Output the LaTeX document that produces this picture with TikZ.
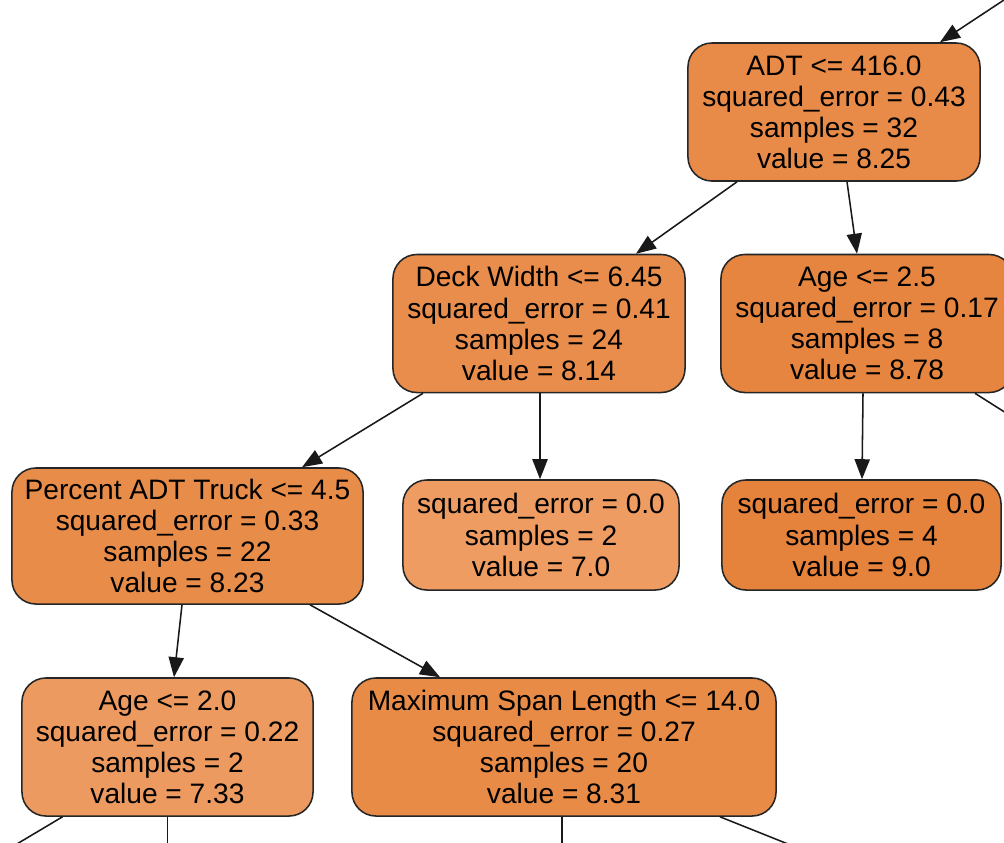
\documentclass[tikz,border=0pt]{standalone}
\usepackage{fontspec}
\usepackage{tikz}
\usetikzlibrary{arrows.meta,calc}
\newfontfamily\treefont{Liberation Sans}
\definecolor{cRoot}{HTML}{E88B48}
\definecolor{cDeck}{HTML}{E88D4B}
\definecolor{cAgeA}{HTML}{E6853F}
\definecolor{cPct}{HTML}{E88C4A}
\definecolor{cLeafA}{HTML}{EE9C62}
\definecolor{cLeafB}{HTML}{E5823C}
\definecolor{cAgeB}{HTML}{EC9A60}
\definecolor{cSpan}{HTML}{E88B47}

\begin{document}
\begin{tikzpicture}[x=0.025cm,y=-0.025cm,
  split/.style={draw=black!85,line width=1.1pt,rounded corners=0.6cm,align=center,
    inner sep=0pt,minimum height=3.45cm,font=\treefont\fontsize{20}{22.1}\selectfont},
  leaf/.style={split,minimum height=2.75cm},
  edge/.style={line width=1.1pt,black!90},
  arr/.style={edge,-{Triangle[length=0.5cm,width=0.38cm]}}]
\useasboundingbox (0,0) rectangle (1004,842);
\clip (0,0) rectangle (1004,842);
\fill[white] (0,0) rectangle (1004,842);
% splits
\node[split,fill=cRoot,minimum width=7.3cm] (root) at (834,112)
  {ADT <= 416.0\\squared\_error = 0.43\\samples = 32\\value = 8.25};
\node[split,fill=cDeck,minimum width=7.3cm] (deck) at (539,323.5)
  {Deck Width <= 6.45\\squared\_error = 0.41\\samples = 24\\value = 8.14};
\node[split,fill=cAgeA,minimum width=7.3cm] (ageA) at (867,323.5)
  {Age <= 2.5\\squared\_error = 0.17\\samples = 8\\value = 8.78};
\node[split,fill=cPct,minimum width=8.775cm,minimum height=3.4cm] (pct) at (187.5,536)
  {Percent ADT Truck <= 4.5\\squared\_error = 0.33\\samples = 22\\value = 8.23};
\node[split,fill=cAgeB,minimum width=7.275cm] (ageB) at (167.5,747)
  {Age <= 2.0\\squared\_error = 0.22\\samples = 2\\value = 7.33};
\node[split,fill=cSpan,minimum width=10.6cm] (span) at (564,747)
  {Maximum Span Length <= 14.0\\squared\_error = 0.27\\samples = 20\\value = 8.31};
% leaves
\node[leaf,fill=cLeafA,minimum width=6.9cm] (leafA) at (541,535)
  {squared\_error = 0.0\\samples = 2\\value = 7.0};
\node[leaf,fill=cLeafB,minimum width=6.975cm] (leafB) at (861.5,535)
  {squared\_error = 0.0\\samples = 4\\value = 9.0};
% free ends outside the frame
\coordinate (inTop) at (1010,-4);
\coordinate (outA) at (1040,434.5);
\coordinate (outB) at (-10,860);
\coordinate (outC) at (167.5,870);
\coordinate (outD) at (562,870);
\coordinate (outE) at (853,870);
% edges
\draw[arr] (inTop) -- ($(root.north)+(106,0)$);
\draw[arr] ($(root.south)+(-97,0)$) -- ($(deck.north)+(97,0)$);
\draw[arr] ($(root.south)+(13,0)$) -- ($(ageA.north)+(-10,0)$);
\draw[arr] ($(deck.south)+(-116,0)$) -- ($(pct.north)+(114.5,0)$);
\draw[arr] ($(deck.south)+(1,0)$) -- ($(leafA.north)+(-1,0)$);
\draw[arr] ($(ageA.south)+(-4,0)$) -- ($(leafB.north)+(0.5,0)$);
\draw[edge] ($(ageA.south)+(108,0)$) -- (outA);
\draw[arr] ($(pct.south)+(-5.5,0)$) -- ($(ageB.north)+(6.5,0)$);
\draw[arr] ($(pct.south)+(122.5,0)$) -- ($(span.north)+(-124,0)$);
\draw[edge] ($(ageB.south)+(-105,0)$) -- (outB);
\draw[edge] (ageB.south) -- (outC);
\draw[edge] ($(span.south)+(-2,0)$) -- (outD);
\draw[edge] ($(span.south)+(156,0)$) -- (outE);
\end{tikzpicture}
\end{document}
